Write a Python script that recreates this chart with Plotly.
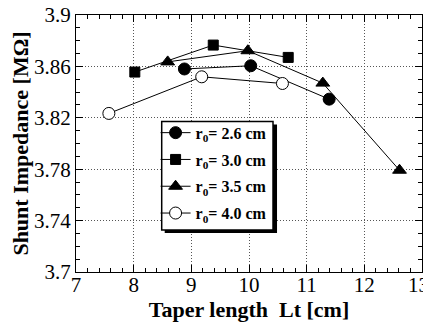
import plotly.graph_objects as go

x_26 = [8.88, 10.03, 11.39]
y_26 = [3.858, 3.8605, 3.8345]
x_30 = [8.02, 9.38, 10.68]
y_30 = [3.8556, 3.8766, 3.867]
x_35 = [8.59, 9.98, 11.28, 12.61]
y_35 = [3.8635, 3.8722, 3.847, 3.7792]
x_40 = [7.57, 9.18, 10.58]
y_40 = [3.8234, 3.8519, 3.8467]

series = [
    ("<b>r<sub>0</sub>= 2.6 cm</b>", x_26, y_26, "circle", "black"),
    ("<b>r<sub>0</sub>= 3.0 cm</b>", x_30, y_30, "square", "black"),
    ("<b>r<sub>0</sub>= 3.5 cm</b>", x_35, y_35, "triangle-up", "black"),
    ("<b>r<sub>0</sub>= 4.0 cm</b>", x_40, y_40, "circle", "white"),
]

ytick_vals = [3.7, 3.74, 3.78, 3.82, 3.86, 3.9]
ytick_text = ["3.7", "3.74", "3.78", "3.82", "3.86", "3.9"]
xtick_vals = [7, 8, 9, 10, 11, 12, 13]
xtick_text = ["7", "8", "9", "10", "11", "12", ""]
last_xtick = "13"

fig = go.Figure()
for i, (name, xs, ys, sym, fill) in enumerate(series):
    fig.add_trace(go.Scatter(
        x=xs, y=ys, mode="lines+markers", name=name, legendgroup=str(i),
        line=dict(color="black", width=1),
        marker=dict(symbol=sym, size=12 if sym != "square" else 10,
                    color=fill, line=dict(color="black", width=1)),
    ))

serif = "Liberation Serif"
axis_common = dict(
    showline=True, linecolor="black", linewidth=1, mirror="allticks",
    ticks="inside", ticklen=7, tickcolor="black",
    showgrid=True, gridcolor="#555", griddash="1px,2px", gridwidth=1,
    zeroline=False, automargin=False, ticklabeloverflow="allow",
    tickfont=dict(family=serif, size=21, color="black"),
)

# page body has an 8px default margin; the figure is sized to fit the window
fig.update_layout(
    width=423, height=321,
    margin=dict(l=68, r=9, t=7, b=57, autoexpand=False),
    paper_bgcolor="white", plot_bgcolor="white",
    xaxis=dict(range=[7, 13], tickvals=xtick_vals, ticktext=xtick_text, ticklabelstandoff=-6,
               minor=dict(dtick=0.2, ticks="inside", ticklen=4, tickcolor="black", showgrid=False),
               title=dict(text="<b>Taper length  Lt [cm]</b>", font=dict(family=serif, size=22, color="black"), standoff=2),
               **axis_common),
    yaxis=dict(range=[3.7, 3.9], tickvals=ytick_vals, ticktext=ytick_text,
               minor=dict(dtick=0.01, ticks="inside", ticklen=4, tickcolor="black", showgrid=False),
               title=dict(text="<b>Shunt Impedance [MΩ]</b>", font=dict(family=serif, size=22, color="black"), standoff=2),
               **axis_common),
    legend=dict(x=0.23, y=0.608, xanchor="left", yanchor="top",
                bgcolor="rgba(0,0,0,0)", borderwidth=0,
                font=dict(family=serif, size=16, color="black"),
                itemwidth=30, tracegroupgap=3),
    showlegend=True,
)
# last x tick label (plotly hides it at the div edge)
fig.add_annotation(x=xtick_vals[-1], xref="x", y=-0.05, yref="paper", xshift=-4,
                   text=last_xtick, showarrow=False, xanchor="center", yanchor="middle",
                   font=dict(family=serif, size=21, color="black"))
# legend shadow and frame
fig.add_shape(type="rect", xref="paper", yref="paper",
              x0=0.2564, x1=0.581, y0=0.1517, y1=0.5739,
              fillcolor="black", line=dict(width=0), layer="above")
fig.add_shape(type="rect", xref="paper", yref="paper",
              x0=0.2477, x1=0.5694, y0=0.1634, y1=0.5856,
              fillcolor="white", line=dict(color="black", width=1.5), layer="above")

fig.write_html("out.html")
